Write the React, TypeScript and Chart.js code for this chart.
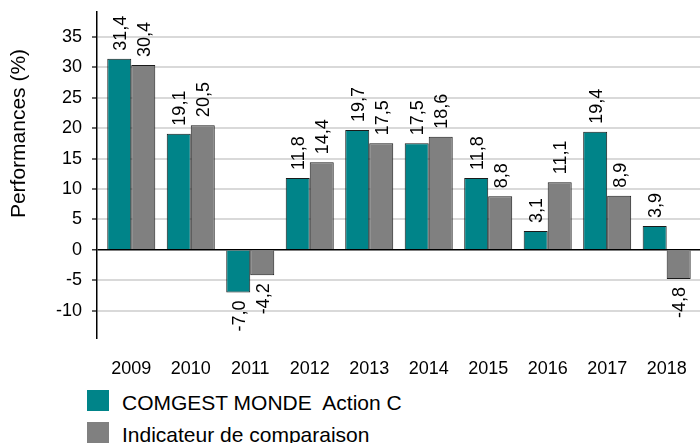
import React, { useEffect, useRef } from "react";
import { Chart, registerables } from "chart.js";

Chart.register(...registerables);

const years = ["2009", "2010", "2011", "2012", "2013", "2014", "2015", "2016", "2017", "2018"];
const comgest = [31.4, 19.1, -7.0, 11.8, 19.7, 17.5, 11.8, 3.1, 19.4, 3.9];
const indicateur = [30.4, 20.5, -4.2, 14.4, 17.5, 18.6, 8.8, 11.1, 8.9, -4.8];
const yTicks = [-10, -5, 0, 5, 10, 15, 20, 25, 30, 35];
const seriesNames = ["COMGEST MONDE  Action C", "Indicateur de comparaison"];
const yTitle = "Performances (%)";

const TEAL = "#008489";
const GRAY = "#808080";
const FONT = '"Liberation Sans", Arial, sans-serif';

const valueLabels = {
  id: "valueLabels",
  afterDatasetsDraw(chart: any) {
    const ctx = chart.ctx;
    ctx.save();
    ctx.font = `18px ${FONT}`;
    ctx.fillStyle = "#000";
    ctx.textBaseline = "alphabetic";
    chart.data.datasets.forEach((ds: any, di: number) => {
      const meta = chart.getDatasetMeta(di);
      meta.data.forEach((el: any, i: number) => {
        const v = ds.data[i].y;
        const txt = v.toFixed(1).replace(".", ",");
        ctx.save();
        ctx.translate(el.x + 6.5, v >= 0 ? el.y - 8 : el.y + 8);
        ctx.rotate(-Math.PI / 2);
        ctx.textAlign = v >= 0 ? "left" : "right";
        ctx.fillText(txt, 0, 0);
        ctx.restore();
      });
    });
    ctx.restore();
  },
};

const axisTitle = {
  id: "axisTitle",
  afterDraw(chart: any) {
    const ctx = chart.ctx;
    ctx.save();
    ctx.font = `21px ${FONT}`;
    ctx.fillStyle = "#000";
    ctx.textBaseline = "alphabetic";
    ctx.textAlign = "center";
    ctx.translate(25, 133.5);
    ctx.rotate(-Math.PI / 2);
    ctx.fillText(yTitle, 0, 0);
    ctx.restore();
  },
};

export default function App() {
  const ref = useRef<HTMLCanvasElement | null>(null);

  useEffect(() => {
    if (!ref.current) return;
    const chart = new Chart(ref.current, {
      type: "bar",
      data: {
        datasets: [
          {
            label: seriesNames[0],
            data: comgest.map((v, i) => ({ x: i, y: v })),
            backgroundColor: TEAL,
            borderColor: "#1a1a1a",
            borderWidth: 1,
          },
          {
            label: seriesNames[1],
            data: indicateur.map((v, i) => ({ x: i, y: v })),
            backgroundColor: GRAY,
            borderColor: "#1a1a1a",
            borderWidth: 1,
          },
        ],
      },
      options: {
        responsive: false,
        animation: false,
        devicePixelRatio: 1,
        layout: { padding: { top: 12, left: 0, right: 0, bottom: 0 } },
        datasets: {
          bar: { categoryPercentage: 0.807, barPercentage: 1 },
        },
        scales: {
          x: {
            type: "linear",
            min: -0.576,
            max: 9.56,
            offset: false,
            grid: { display: false, offset: false },
            border: { display: false },
            afterBuildTicks: (s: any) => {
              s.ticks = years.map((_, i) => ({ value: i }));
            },
            afterFit: (s: any) => {
              s.height = 42;
              s.paddingLeft = 0;
              s.paddingRight = 0;
            },
            ticks: {
              autoSkip: false,
              maxRotation: 0,
              padding: 12,
              color: "#000",
              font: { family: FONT, size: 18 },
              callback: (v: any) => years[v] ?? "",
            },
          },
          y: {
            min: -14.5,
            max: 39.1,
            afterBuildTicks: (s: any) => {
              s.ticks = yTicks.map((v) => ({ value: v }));
            },
            afterFit: (s: any) => {
              s.width = 97;
              s.paddingTop = 0;
              s.paddingBottom = 0;
            },
            border: { display: true, color: "#000", width: 1.5 },
            grid: {
              color: (c: any) => (c.tick && c.tick.value === 0 ? "#000" : "#d9d9d9"),
              lineWidth: (c: any) => (c.tick && c.tick.value === 0 ? 1.5 : 2),
              tickLength: 5,
              tickColor: "#333",
              tickWidth: 1.5,
            },
            ticks: {
              padding: 10,
              color: "#000",
              font: { family: FONT, size: 18 },
              callback: (v: any) => String(v),
            },
          },
        },
        plugins: {
          legend: { display: false },
          tooltip: { enabled: false },
        },
      },
      plugins: [valueLabels, axisTitle],
    });
    return () => chart.destroy();
  }, []);

  const legendItem = (color: string, text: string, top: number) => (
    <div style={{ position: "absolute", left: 0, top, height: 22, width: 700 }}>
      <div
        style={{
          position: "absolute",
          left: 87,
          top: 0,
          width: 22,
          height: 21,
          background: color,
        }}
      />
      <div
        style={{
          position: "absolute",
          left: 122,
          top: 1.5,
          fontFamily: FONT,
          fontSize: 21,
          lineHeight: "21px",
          color: "#000",
          whiteSpace: "pre",
        }}
      >
        {text}
      </div>
    </div>
  );

  return (
    <div
      style={{
        position: "fixed",
        left: 0,
        top: 0,
        width: 700,
        height: 443,
        background: "#fff",
        overflow: "hidden",
      }}
    >
      <canvas ref={ref} width={700} height={380} style={{ position: "absolute", left: 0, top: 0 }} />
      {legendItem(TEAL, seriesNames[0], 390)}
      {legendItem(GRAY, seriesNames[1], 422)}
    </div>
  );
}
